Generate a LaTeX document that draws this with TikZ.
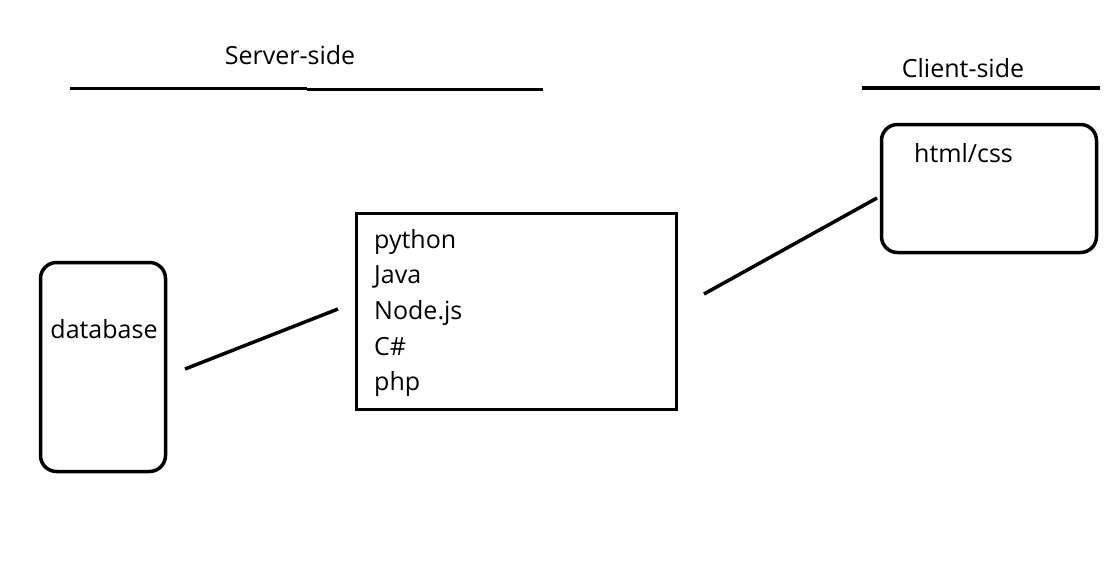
\documentclass[tikz,border=0pt]{standalone}
\usepackage{fontspec}
\setmainfont{Open Sans}
\begin{document}
\begin{tikzpicture}[x=1pt,y=-1pt,
  lbl/.style={inner sep=0pt,font=\fontsize{25}{28}\selectfont},
  box/.style={draw,line width=3.5pt},
  rbox/.style={box,rounded corners=16pt},
  wire/.style={line width=3.5pt}]
\useasboundingbox[fill=white] (0,0) rectangle (1117,563);
% headings
\node[lbl,anchor=base] (server) at (290,64) {Server-side};
\coordinate (sl1) at (70,88.5); \coordinate (slm) at (307,88.5);
\coordinate (slm2) at (307,89.5); \coordinate (sl2) at (543,89.5);
\draw[wire] (sl1) -- (slm);
\draw[wire] (slm2) -- (sl2);
\node[lbl,anchor=base] (client) at (963,77) {Client-side};
\coordinate (cl1) at (862,88); \coordinate (cl2) at (1100,88);
\draw[wire] (cl1) -- (cl2);
% boxes
\node[rbox,minimum width=215pt,minimum height=128pt] (html) at (989,188.5) {};
\node[lbl,anchor=base west] (htmlt) at (914,162) {html/css};
\node[box,minimum width=320pt,minimum height=196pt] (mid) at (516.5,311.5) {};
\node[lbl,anchor=base west] (t1) at (374,248) {python};
\node[lbl,anchor=base west] (t2) at (374,283.5) {Java};
\node[lbl,anchor=base west] (t3) at (374,319) {Node.js};
\node[lbl,anchor=base west] (t4) at (374,355) {C\#};
\node[lbl,anchor=base west] (t5) at (374,390) {php};
\node[rbox,minimum width=125pt,minimum height=209pt] (db) at (103,367) {};
\node[lbl,anchor=base] (dbt) at (104,338) {database};
% connectors
\coordinate (a1) at (185,369); \coordinate (a2) at (338,309);
\draw[wire] (a1) -- (a2);
\coordinate (b1) at (704,294); \coordinate (b2) at (877,198);
\draw[wire] (b1) -- (b2);
\end{tikzpicture}
\end{document}
